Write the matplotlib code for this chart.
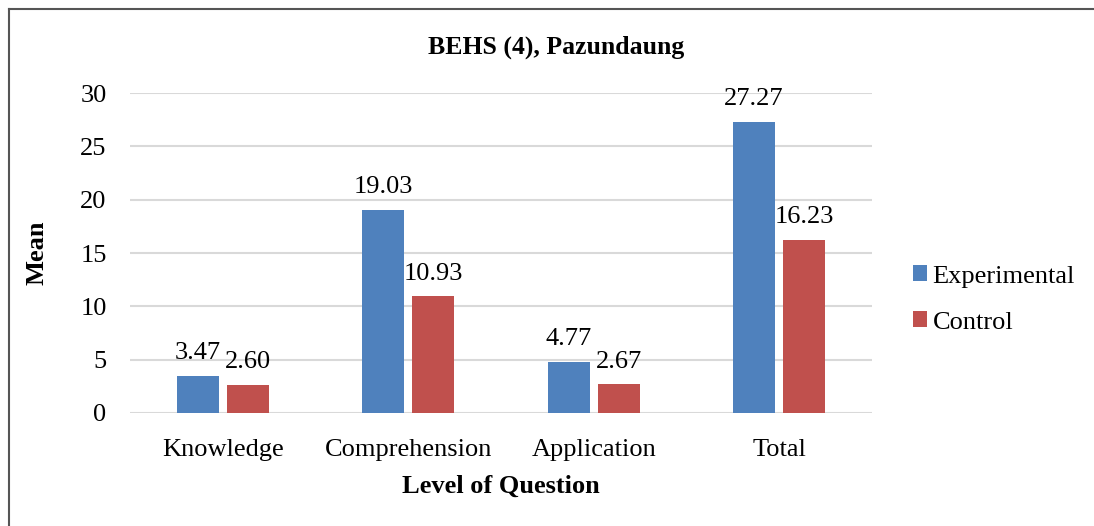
import matplotlib.pyplot as plt
import numpy as np
from matplotlib.lines import Line2D

categories = ["Knowledge", "Comprehension", "Application", "Total"]
experimental = [3.47, 19.03, 4.77, 27.27]
control = [2.60, 10.93, 2.67, 16.23]

plt.rcParams['font.family'] = ['Liberation Serif', 'DejaVu Serif']

blue, red = '#4F81BD', '#C0504D'
fig = plt.figure(figsize=(10.94, 5.26), dpi=100)
ax = fig.add_axes([0.119, 0.215, 0.678, 0.608])

x = np.arange(len(categories))
w, off = 0.226, 0.135
b1 = ax.bar(x - off, experimental, w, color=blue, label="Experimental", zorder=3)
b2 = ax.bar(x + off, control, w, color=red, label="Control", zorder=3)

for bars, vals in ((b1, experimental), (b2, control)):
    for rect, v in zip(bars, vals):
        ax.text(rect.get_x() + rect.get_width() / 2, v + 1.1, "%.2f" % v,
                ha='center', va='bottom', fontsize=19)

ax.set_xlim(-0.5, 3.5)
ax.set_ylim(0, 30)
ax.set_yticks(range(0, 31, 5))
ax.set_xticks(x)
ax.set_xticklabels(categories)
ax.tick_params(axis='both', length=0, labelsize=19)
ax.tick_params(axis='x', pad=19)
ax.tick_params(axis='y', pad=17)
ax.grid(axis='y', color='#D9D9D9', linewidth=1.5, zorder=0)
for s in ax.spines.values():
    s.set_visible(False)

ax.set_xlabel("Level of Question", fontsize=19, fontweight='bold', labelpad=10)
ax.set_ylabel("Mean", fontsize=19, fontweight='bold', labelpad=23)
fig.text(0.508, 0.91, "BEHS (4), Pazundaung", ha='center', va='center',
         fontsize=18.5, fontweight='bold')

ax.legend(loc='center left', bbox_to_anchor=(1.023, 0.355), frameon=False,
          fontsize=19, handlelength=0.55, handleheight=0.55, handletextpad=0.2,
          labelspacing=0.9)

# only the top and left edges of the chart frame are visible
fig.lines.append(Line2D([0.0085, 1.0], [0.983, 0.983], transform=fig.transFigure,
                        color='#555555', linewidth=1.5))
fig.lines.append(Line2D([0.0085, 0.0085], [0.0, 0.983], transform=fig.transFigure,
                        color='#555555', linewidth=1.5))

fig.savefig("out.png", dpi=100)
